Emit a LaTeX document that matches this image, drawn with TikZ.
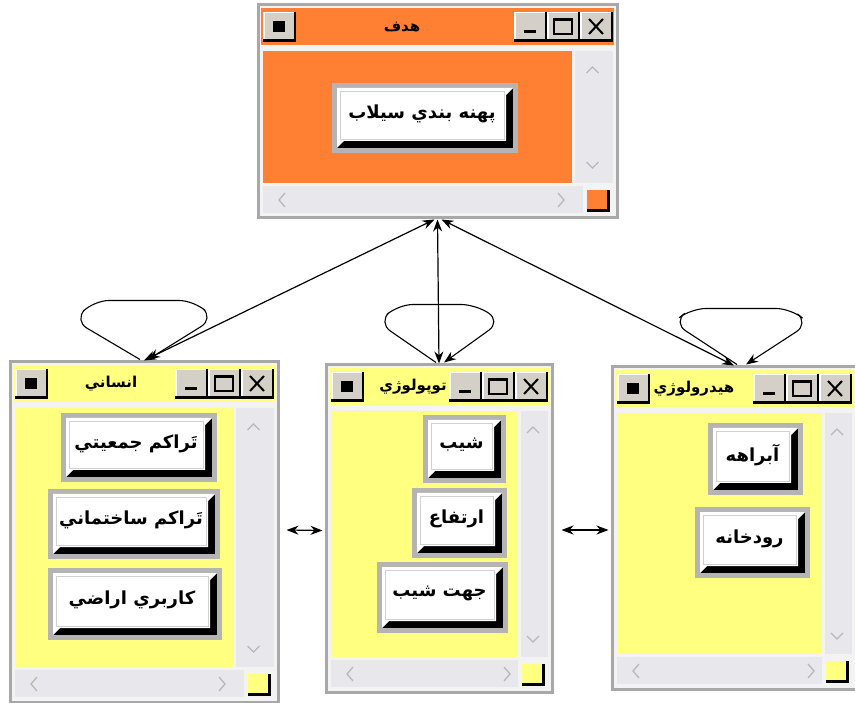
\documentclass[tikz,border=0pt]{standalone}
\usepackage{fontspec}
\usetikzlibrary{arrows.meta,fit,calc}
\TeXXeTstate=1
\newfontfamily\arabicfont[Script=Arabic]{DejaVu Sans}
\definecolor{winorange}{HTML}{FF7F33}
\definecolor{winyellow}{HTML}{FFFF80}
\definecolor{framegray}{HTML}{A8A8A8}
\definecolor{panelgray}{HTML}{F3F3F3}
\definecolor{trackgray}{HTML}{E8E8EC}
\definecolor{btngray}{HTML}{B4B4B4}
\definecolor{facegray}{HTML}{D4D0C8}
\tikzset{
 conn/.style={draw=black, line width=1.2pt, {Stealth[length=12pt,width=9pt]}-{Stealth[length=12pt,width=9pt]}},
 selfloop/.style={draw=black, line width=1.1pt, -{Stealth[length=12pt,width=9pt]}, rounded corners=15pt},
 winframe/.style={draw=framegray, line width=3pt, fill=panelgray, inner sep=0pt},
 wtitle/.style={font=\arabicfont\bfseries\fontsize{15}{17}\selectfont, text=black, inner sep=0pt},
 btext/.style={font=\arabicfont\bfseries\fontsize{18}{20}\selectfont, text=black, inner sep=0pt},
 chev/.style={draw=black!28, line width=1.3pt},
}
\newcommand\glyphSys{\fill[black] (10,9) rectangle (22,20);}
\newcommand\glyphMin{\fill[black] (10,18) rectangle (22,21.5);}
\newcommand\glyphMax{\draw[black,line width=1.4pt] (7,7) rectangle (25,22); \fill[black] (7,6) rectangle (25,9.5);}
\newcommand\glyphClose{\draw[black,line width=2pt] (9,7)--(23,22) (23,7)--(9,22);}
\newcommand\tbtn[3]{%
 \begin{scope}[shift={(#1,#2)}]
 \fill[black] (0,0) rectangle (33,30);
 \fill[white] (0,0) rectangle (30.5,27.5);
 \fill[facegray] (1.5,1.5) rectangle (30.5,27.5);
 #3
 \end{scope}}
% name x1 y1 x2 y2 colour title titlex scrollwidth
\newcommand\drawwin[9]{%
 \node[winframe, fit={(#2,#3) (#4,#5)}] (#1) {};
 \fill[#6] (#2+3,#3+3) rectangle (#4-3,#3+40);
 \fill[#6] (#2+5,#3+46) rectangle (#4-#9,#5-35);
 \fill[trackgray] (#4-#9+3,#3+46) rectangle (#4-4,#5-35);
 \fill[trackgray] (#2+5,#5-32) rectangle (#4-34,#5-5);
 \draw[chev] ({#4-#9/2-8},#3+68) -- ({#4-#9/2-2},#3+62) -- ({#4-#9/2+4},#3+68);
 \draw[chev] ({#4-#9/2-8},#5-56) -- ({#4-#9/2-2},#5-50) -- ({#4-#9/2+4},#5-56);
 \draw[chev] (#2+27,#5-25) -- (#2+21,#5-18) -- (#2+27,#5-11);
 \draw[chev] (#4-#9-14,#5-25) -- (#4-#9-8,#5-18) -- (#4-#9-14,#5-11);
 \fill[black] (#4-30,#5-28) rectangle (#4-7,#5-6);
 \fill[#6] (#4-30,#5-28) rectangle (#4-10,#5-9);
 \tbtn{#2+5}{#3+7}{\glyphSys}
 \tbtn{#4-103}{#3+7}{\glyphMin}
 \tbtn{#4-70}{#3+7}{\glyphMax}
 \tbtn{#4-37}{#3+7}{\glyphClose}
 \node[wtitle] (#1-t) at (#8,#3+22) {#7};
}
% name x1 y1 x2 y2 text
\newcommand\cbtn[6]{%
 \fill[btngray] (#2,#3) rectangle (#4,#5);
 \fill[black] (#2+5,#3+5) rectangle (#4-5,#5-5);
 \fill[white] (#2+5,#3+5) -- (#4-5,#3+5) -- (#4-12,#3+12) -- (#4-12,#5-12) -- (#2+12,#5-12) -- (#2+5,#5-5) -- cycle;
 \draw[black!18, line width=0.8pt] (#2+8,#3+8) rectangle (#4-14,#5-14);
 \node[btext] (#1) at ({(#2+#4)/2-3},{(#3+#5)/2-4}) {#6};
}
\begin{document}
\begin{tikzpicture}[x=1pt,y=-1pt]
\fill[white] (0,0) rectangle (855,703);
\useasboundingbox (0,0) rectangle (855,703);

% windows
\drawwin{hadaf}{258}{5}{617}{218}{winorange}{\beginR هدف\endR}{402}{45}
\drawwin{ensani}{10}{362}{278}{702}{winyellow}{\beginR انساني\endR}{111}{45}
\drawwin{topo}{326}{365}{552}{692}{winyellow}{\beginR توپولوژي\endR}{413}{34}
\drawwin{hidro}{612}{367}{856}{689}{winyellow}{\beginR هيدرولوژي\endR}{694}{34}

% buttons
\cbtn{b1}{332}{83}{518}{153}{\beginR پهنه بندي سيلاب\endR}
\cbtn{b2}{61}{413}{217}{482}{\beginR تَراكم جمعيتي\endR}
\cbtn{b3}{48}{489}{220}{559}{\beginR تَراكم ساختماني\endR}
\cbtn{b4}{48}{568}{222}{640}{\beginR كاربري اراضي\endR}
\cbtn{b5}{423}{415}{506}{483}{\beginR شيب\endR}
\cbtn{b6}{412}{488}{507}{558}{\beginR ارتفاع\endR}
\cbtn{b7}{377}{562}{508}{633}{\beginR جهت شيب\endR}
\cbtn{b8}{708}{423}{803}{495}{\beginR آبراهه\endR}
\cbtn{b9}{695}{507}{810}{578}{\beginR رودخانه\endR}

% connectors
\draw[conn] ([xshift=-3]hadaf.south) -- (ensani.north);
\draw[conn] (hadaf.south) -- (topo.north);
\draw[conn] ([xshift=4]hadaf.south) -- (hidro.north);
\draw[conn] ($(ensani.east)+(7,-2)$) -- ($(topo.west)+(-2,2)$);
\draw[conn] ($(topo.east)+(8,1.5)$) -- ($(hidro.west)+(-2,2)$);

% self loops
\draw[selfloop] ($(ensani.north)+(-4,-1)$) -- ++(-66,-39) -- ++(20,-20) -- ++(100,0) -- ++(20,18) -- ($(ensani.north)+(4,-1)$);
\draw[selfloop] ($(topo.north)+(-3,-1)$) -- ++(-58,-40) -- ++(20,-18) -- ++(78,0) -- ++(25,17) -- ($(topo.north)+(5,-1)$);
\draw[selfloop] ($(hidro.north)+(3,-1)$) -- ++(-64,-42) -- ++(18,-14) -- ++(100,0) -- ++(18,15) -- ($(hidro.north)+(12,-1)$);
\end{tikzpicture}
\end{document}
